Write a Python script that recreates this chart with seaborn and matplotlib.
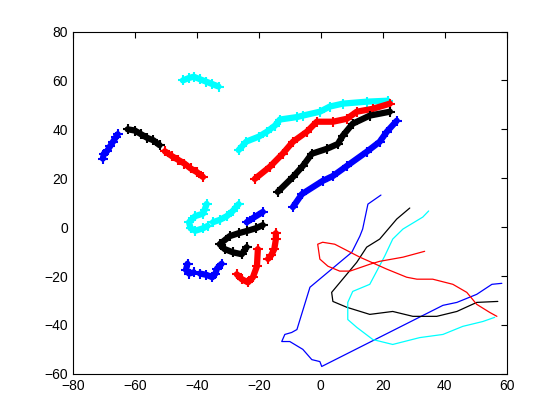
import numpy as np
import pandas as pd
import seaborn as sns
import matplotlib
matplotlib.use("Agg")
import matplotlib.pyplot as plt

# thick marker tracks (x, y)
cyan_top_x = [-44.5, -42.5, -41, -39, -37, -35, -33]
cyan_top_y = [60, 61, 61.5, 60.5, 59.5, 58.5, 57.5]
blue_left_x = [-70.3, -70, -69, -68, -67, -66, -65.5]
blue_left_y = [28, 30, 31, 33, 35, 37, 38]
black_left_x = [-62.3, -60, -58, -56, -54, -52]
black_left_y = [40, 39.5, 38, 36.5, 35.5, 33.5]
red_left_x = [-50.3, -48, -46, -44, -42, -40, -38]
red_left_y = [31, 29, 27.5, 26, 24, 22.5, 20.5]

cyan_up_x = [-26.5, -24, -20, -17.4, -14.8, -13.2, -7.7, -5.8, -0.3, 2.9, 7.1, 14.8, 21.6]
cyan_up_y = [31.5, 35, 37, 39, 41.5, 44, 45, 45.6, 47.2, 49.3, 50.5, 51.3, 51.7]
red_up_x = [-21.3, -16.5, -12.3, -9, -4.5, -1.3, 3.9, 8.4, 11.6, 16.8, 22.3]
red_up_y = [19.7, 24.6, 30, 34.9, 39, 43.1, 43.1, 44.3, 47.2, 48.4, 50.5]
black_up_x = [-13.9, -9, -5.8, -2.9, 1.9, 5.5, 7.1, 10.3, 15.8, 22.3]
black_up_y = [14.4, 20.5, 25, 30, 32, 34, 37.4, 42.3, 45.6, 47.2]
blue_up_x = [-9, -6.1, 0.6, 3.9, 8.4, 14.8, 19, 21.3, 24.5]
blue_up_y = [8.2, 13.5, 18.9, 20.9, 25, 30.8, 34.9, 39, 43.5]

cyan_s1_x = [-36.8, -37.5, -38, -40.5, -42.5, -42, -40.5, -38, -36.5]
cyan_s1_y = [9.5, 7, 5.5, 4.5, 2, -0.5, -1.5, -0.5, 0.5]
cyan_s2_x = [-34.8, -32.5, -30.3, -28.4, -26.5]
cyan_s2_y = [2, 3, 4.5, 6.6, 9.4]
blue_s1_x = [-23.9, -21.5, -18.7]
blue_s1_y = [2, 4, 6.2]
black_s_x = [-18.7, -21, -23.9, -26.5, -29.4, -32.6, -31, -28.4, -25.5, -23.9]
black_s_y = [0.8, -0.5, -1.6, -2.5, -3.7, -7, -9, -10.3, -11.1, -8.2]
blue_s2_x = [-43, -43.5, -42.5, -41]
blue_s2_y = [-15, -17.5, -19, -18.5]
blue_s3_x = [-39, -37, -35, -34, -33.5, -32]
blue_s3_y = [-19, -19.5, -20.5, -19, -17, -15]
red_s1_x = [-27.1, -25.5, -23.5, -21.9, -20.6, -20.3]
red_s1_y = [-19.3, -21.3, -22.6, -20.5, -16, -9]
red_s2_x = [-17, -16, -15, -14.5, -14.5]
red_s2_y = [-13, -11.5, -9, -5, -2.5]

# thin tracks
blue_thin_x = [19.4, 15.2, 13.5, 12.6, 10, -3.5, -7.7, -9.4, -11.6, -12.6, -10, -5.8, -2.9, -0.3, 0.3,
               39.4, 43.9, 50.3, 55.2, 58.4]
blue_thin_y = [13.1, 9.4, -0.8, -3.7, -10.3, -24.6, -41.9, -43.1, -43.9, -46.8, -46.8, -50, -54.2, -55, -57,
               -32, -30.8, -27.5, -23.4, -23]
black_thin_x = [28.7, 24.5, 19, 14.8, 11.6, 3.5, 3.9, 8.4, 15.8, 23.2, 29.7, 37.4, 43.9, 50.3, 57.1]
black_thin_y = [7.8, 3.3, -4.9, -8.2, -14.4, -26.7, -30.4, -32.8, -35.7, -34.5, -36.5, -36.5, -34.5, -30.8, -30.4]
cyan_thin_x = [34.8, 32.9, 26.5, 23.2, 20.6, 15.8, 10.3, 8.7, 8.7, 11.6, 16.8, 23.2, 31.9, 39.4, 45.8, 52.3, 56.1]
cyan_thin_y = [6.6, 4.1, -0.8, -4.9, -11.9, -23.4, -26.3, -30.8, -37.8, -41, -46, -48, -45.2, -43.9, -40.6,
               -38.6, -36.9]
red_thin_x = [33.5, 26.5, 19, 15.8, 9.4, 6.1, 2.3, -0.3, -1, 0.6, 4.5, 12.6, 21.3, 27.7, 31, 36.1, 42.6,
              47.1, 50.3, 54.5, 56.8]
red_thin_y = [-9.9, -12.3, -14, -15.2, -18, -18, -16, -13.1, -7, -6.2, -7, -12.3, -17.2, -20.5, -21.3, -21.3,
              -23.4, -26.7, -31.6, -34.9, -36.5]

C, B, R, K = "#00FFFF", "#0000FF", "#FF0000", "#000000"

thick = [
    (cyan_top_x, cyan_top_y, C), (blue_left_x, blue_left_y, B),
    (black_left_x, black_left_y, K), (red_left_x, red_left_y, R),
    (cyan_up_x, cyan_up_y, C), (red_up_x, red_up_y, R),
    (black_up_x, black_up_y, K), (blue_up_x, blue_up_y, B),
    (cyan_s1_x, cyan_s1_y, C), (cyan_s2_x, cyan_s2_y, C),
    (blue_s1_x, blue_s1_y, B), (black_s_x, black_s_y, K),
    (blue_s2_x, blue_s2_y, B), (blue_s3_x, blue_s3_y, B),
    (red_s1_x, red_s1_y, R), (red_s2_x, red_s2_y, R),
]
thin = [
    (blue_thin_x, blue_thin_y, B), (black_thin_x, black_thin_y, K),
    (cyan_thin_x, cyan_thin_y, C), (red_thin_x, red_thin_y, R),
]

sns.set_style("white")
plt.rcParams["font.family"] = ["Liberation Sans", "DejaVu Sans"]

fig = plt.figure(figsize=(5.6, 4.2), dpi=100)
ax = fig.add_axes([0.13, 0.11, 0.775, 0.815])

for xs, ys, c in thick:
    sns.lineplot(x=xs, y=ys, sort=False, estimator=None, ax=ax, color=c,
                 linewidth=4.5, marker="+", markersize=7, markeredgewidth=1.5,
                 markeredgecolor=c, markerfacecolor=c)
for xs, ys, c in thin:
    sns.lineplot(x=xs, y=ys, sort=False, estimator=None, ax=ax, color=c, linewidth=0.9)

ax.set_xlim(-80, 60)
ax.set_ylim(-60, 80)
ax.set_xticks(range(-80, 61, 20))
ax.set_yticks(range(-60, 81, 20))
ax.tick_params(direction="in", length=4, top=True, right=True, labelsize=10, colors="black")
for s in ax.spines.values():
    s.set_color("black")
    s.set_linewidth(0.8)

fig.savefig("out.png", dpi=100)
